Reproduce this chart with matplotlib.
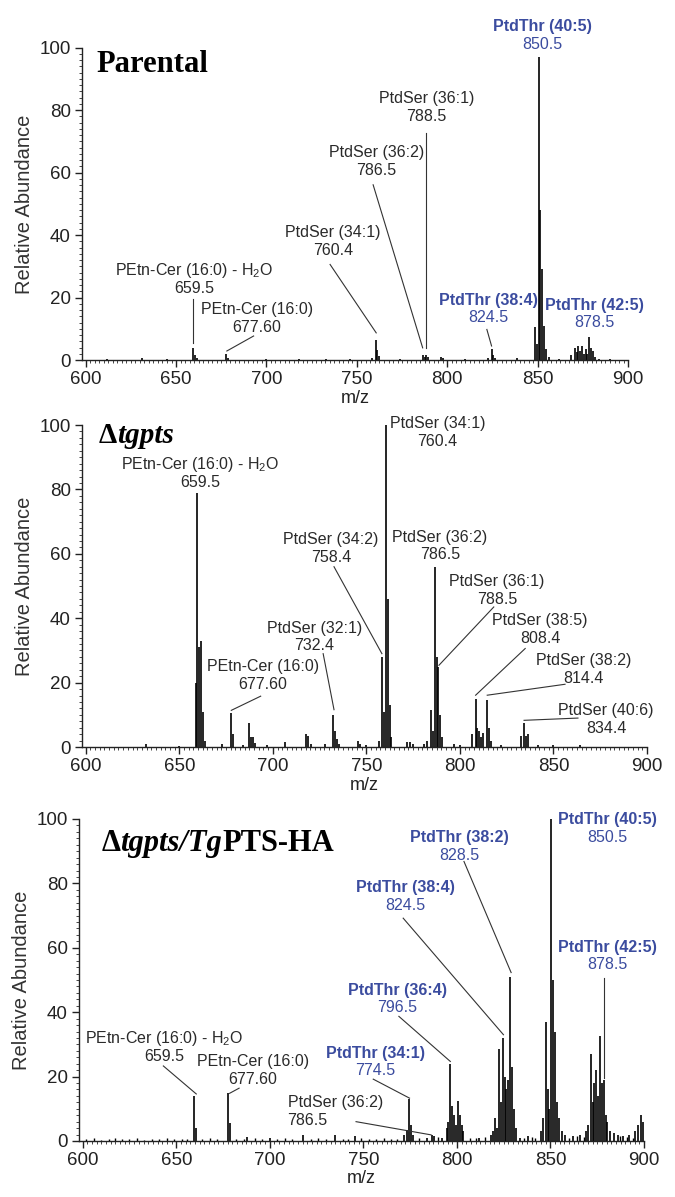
import matplotlib.pyplot as plt
from matplotlib.ticker import MultipleLocator

plt.rcParams['font.family'] = ['Liberation Sans', 'DejaVu Sans']
plt.rcParams['mathtext.fontset'] = 'custom'
plt.rcParams['mathtext.rm'] = 'Liberation Sans'
plt.rcParams['mathtext.it'] = 'Liberation Sans:italic'
plt.rcParams['mathtext.bf'] = 'Liberation Sans:bold'

BLUE = '#3b4c9f'
GREY = '#2a2a2a'

# ---- Parental spectrum ----
par_mz = [612, 631, 645, 659.5, 660.5, 661.5, 677.6, 678.6, 700, 718, 733, 746,
          758.5, 760.4, 761.4, 762.4, 774, 786.5, 787.5, 788.5, 789.5, 796.5,
          797.5, 810, 822.5, 824.5, 825.5, 826.5, 838.5, 848.5, 849.5, 850.5,
          851.5, 852.5, 853.5, 854.5, 856, 862, 868.5, 870.5, 871.5, 872.5,
          873.5, 874.5, 875.5, 876.5, 877.5, 878.5, 879.5, 880.5, 881.5, 884, 890]
par_int = [0.3, 0.6, 0.3, 4.0, 1.5, 0.6, 2.0, 0.8, 0.4, 0.4, 0.4, 0.3,
           0.5, 6.5, 3.2, 1.2, 0.4, 1.6, 1.0, 1.7, 1.0, 1.0,
           0.5, 0.4, 0.8, 3.5, 1.6, 0.6, 0.6, 10.5, 5.0, 97.0,
           48.0, 29.0, 11.0, 3.5, 1.0, 0.4, 1.5, 4.0, 2.5, 4.5,
           3.0, 4.5, 2.0, 3.5, 2.0, 7.5, 4.0, 3.0, 1.0, 0.4, 0.3]
par_names = ['PEtn-Cer (16:0) - H$_2$O', 'PEtn-Cer (16:0)', 'PtdSer (34:1)',
             'PtdSer (36:2)', 'PtdSer (36:1)', 'PtdThr (40:5)', 'PtdThr (38:4)',
             'PtdThr (42:5)']
par_values = ['659.5', '677.60', '760.4', '786.5', '788.5', '850.5', '824.5', '878.5']

# ---- knockout spectrum ----
ko_mz = [632, 650, 659.0, 659.5, 660.5, 661.5, 662.5, 663.5, 673, 677.6, 678.6,
         684, 687.5, 688.5, 689.5, 690.5, 697, 706.5, 717.5, 719.0, 720.5, 728,
         732.4, 733.4, 734.4, 735.5, 745.5, 746.5, 750, 756.5, 758.4, 759.4,
         760.4, 761.4, 762.4, 763.4, 771.5, 773.5, 775, 781, 782.5, 784.5,
         785.5, 786.5, 787.5, 788.5, 789.5, 790.5, 797, 800, 806.5, 808.4,
         809.4, 810.4, 811.4, 812.4, 814.4, 815.4, 816.4, 822, 832.4, 834.4,
         835.4, 836.4, 842, 850, 864]
ko_int = [1.0, 0.4, 20, 79, 31, 33, 11, 2, 1.0, 10.5, 4,
          0.6, 7.5, 3, 3, 1.2, 0.5, 1.5, 4, 3.5, 1, 0.8,
          10, 5, 2.5, 1, 2, 1, 0.5, 2, 28, 11,
          100, 46, 13, 3, 1.5, 1.5, 1, 1, 2, 11.5,
          5, 56, 28, 25, 10, 3, 0.8, 0.6, 4, 15,
          6, 5, 3, 4.5, 14.5, 6, 2, 0.5, 3.5, 7.5,
          3.5, 4, 0.5, 0.5, 0.7]
ko_names = ['PEtn-Cer (16:0) - H$_2$O', 'PEtn-Cer (16:0)', 'PtdSer (32:1)',
            'PtdSer (34:2)', 'PtdSer (34:1)', 'PtdSer (36:2)', 'PtdSer (36:1)',
            'PtdSer (38:5)', 'PtdSer (38:2)', 'PtdSer (40:6)']
ko_values = ['659.5', '677.60', '732.4', '758.4', '760.4', '786.5', '788.5',
             '808.4', '814.4', '834.4']

# ---- complemented spectrum ----
ha_mz = [659.5, 660.5, 677.6, 678.6, 688, 700, 718, 735, 745.5, 772, 773.5,
         774.5, 775.5, 776.5, 784, 786.5, 788, 792, 794.5, 795.5, 796.5, 797.5,
         798.5, 799.5, 800.5, 801.5, 802.5, 803.5, 812, 818, 819.5, 820.5, 821.5,
         822.5, 823.5, 824.5, 825.5, 826.5, 827.5, 828.5, 829.5, 830.5, 831.5,
         834, 838, 845, 846.2, 847.5, 848.8, 849.5, 850.5, 851.5, 852.5, 853.5,
         854.5, 856, 858, 862, 866, 869, 870, 871.5, 872.5, 873.5, 874.5, 875.5,
         876.5, 877.5, 878.5, 879.5, 880.5, 882, 884, 886, 889, 892, 895, 897,
         898.5, 899.5]
ha_int = [14, 4, 15, 5.5, 1.2, 1, 2, 2, 1.5, 2, 3.5,
          13, 5, 2, 1, 2, 1.5, 1, 4, 6, 24, 11,
          8, 5, 12.5, 8, 5, 3, 1, 2, 3, 7, 4,
          28.5, 12, 32, 20, 16, 19, 51, 23, 10, 4,
          1, 1.5, 3, 7, 37, 16, 10, 100, 50, 34, 12,
          7, 3, 2, 1.5, 2, 3, 5, 27, 12, 18, 22, 14,
          32.5, 18, 19, 8, 6, 3, 2.5, 2, 1.5, 2, 3, 5,
          8, 6]
ha_noise_mz = [602, 606, 610, 614, 617, 621, 625, 629, 633, 637, 641, 645, 649,
               653, 656, 664, 668, 672, 682, 686, 692, 696, 704, 708, 712, 722,
               726, 730, 739, 742, 749, 753, 757, 761, 765, 768, 780, 790, 807,
               810, 815, 836, 840, 842, 860, 864, 868, 887, 891, 894]
ha_noise_int = [0.5, 0.8, 0.4, 0.7, 1.0, 0.5, 0.6, 0.9, 0.4, 0.7, 0.5, 0.8, 0.6,
                0.5, 0.7, 0.6, 0.9, 0.5, 0.7, 0.6, 0.8, 0.5, 0.7, 0.9, 0.6, 0.5,
                0.8, 0.6, 0.7, 0.5, 0.9, 0.6, 0.5, 0.8, 0.6, 0.7, 1.0, 1.2, 1.0,
                0.8, 1.2, 0.9, 1.1, 0.8, 1.0, 1.4, 1.2, 1.5, 1.3, 1.0]
ha_names = ['PEtn-Cer (16:0) - H$_2$O', 'PEtn-Cer (16:0)', 'PtdSer (36:2)',
            'PtdThr (34:1)', 'PtdThr (36:4)', 'PtdThr (38:4)', 'PtdThr (38:2)',
            'PtdThr (40:5)', 'PtdThr (42:5)']
ha_values = ['659.5', '677.60', '786.5', '774.5', '796.5', '824.5', '828.5',
             '850.5', '878.5']

# label placement (data coords) and leader lines
par_text_xy = [(660, 25.8), (694.8, 13.3), (736.9, 37.9), (760.7, 63.5),
               (788.6, 80.9), (852.4, 103.9), (822.6, 16.3), (881.4, 14.8)]
par_leaders = [(659.5, 19.4, 659.5, 5.5), (692.9, 7.7, 678.1, 2.9),
               (735.2, 30.6, 760.7, 8.7), (759.0, 56.1, 786.4, 3.9),
               (788.5, 72.6, 788.5, 3.9), None, (821.9, 9.8, 824.5, 4.5), None]
ko_text_xy = [(661.2, 85.0), (694.6, 22.2), (722.3, 34.1), (731.1, 61.6),
              (788.1, 97.7), (789.3, 62.4), (819.7, 48.6), (842.8, 36.5),
              (865.9, 24.1), (878.1, 8.6)]
ko_leaders = [None, (693.5, 15.8, 677.8, 11.4), (726.9, 29.0, 732.7, 11.6),
              (732.7, 56, 758.3, 29), None, None, (818.1, 43.5, 788.8, 25.4),
              (834.9, 30.6, 808.4, 16.1), (856.2, 19.5, 814.6, 16.1),
              (863.1, 9.0, 834.3, 8.3)]
ha_text_xy = [(643.5, 29.1), (690.9, 21.9), (709.5, 9.1), (756.4, 24.6),
              (768.3, 44.1), (772.4, 75.9), (801.1, 91.4), (880.5, 97.0),
              (880.5, 57.5)]
ha_leaders = [(643.1, 23.3, 660.7, 14.6), (683.6, 16.4, 678.5, 14.8),
              (746.1, 6.0, 786.2, 1.9), (755.3, 19.2, 774.7, 13.3),
              (769.0, 38.7, 796.5, 24.7), (771.3, 69.2, 824.9, 33.0),
              (803.8, 86.8, 829.0, 52.3), None, (878.9, 50.6, 878.9, 19.5)]
ha_align = ['center', 'center', 'left', 'center', 'center', 'center', 'center',
            'center', 'center']


def setup_axis(ax):
    ax.set_xlim(598, 900)
    ax.set_ylim(0, 100)
    for s in ['top', 'right']:
        ax.spines[s].set_visible(False)
    for s in ['left', 'bottom']:
        ax.spines[s].set_linewidth(1.0)
        ax.spines[s].set_color('#222222')
    ax.xaxis.set_major_locator(MultipleLocator(50))
    ax.xaxis.set_minor_locator(MultipleLocator(2.5))
    ax.yaxis.set_major_locator(MultipleLocator(20))
    ax.yaxis.set_minor_locator(MultipleLocator(2))
    ax.tick_params(which='major', length=5, width=1.0, labelsize=13.5,
                   colors='#222222', pad=3)
    ax.tick_params(which='minor', length=2.5, width=0.7, colors='#444444')
    ax.set_xlabel('m/z', fontsize=13, color='#222222', labelpad=1)
    ax.set_ylabel('Relative Abundance', fontsize=14.5, color='#333333', labelpad=4)


def draw_labels(ax, names, values, text_xy, leaders, align=None):
    for i in range(len(names)):
        x, y = text_xy[i]
        ha = align[i] if align else 'center'
        if names[i].startswith('PtdThr'):
            col, w = BLUE, 'bold'
        else:
            col, w = GREY, 'normal'
        ax.annotate(names[i], xy=(x, y), xytext=(0, 6.3), textcoords='offset points',
                    ha=ha, va='center', fontsize=11.5, color=col, fontweight=w,
                    annotation_clip=False)
        ax.annotate(values[i], xy=(x, y), xytext=(0, -6.3), textcoords='offset points',
                    ha=ha, va='center', fontsize=11.5, color=col,
                    annotation_clip=False)
        if leaders[i] is not None:
            x0, y0, x1, y1 = leaders[i]
            ax.plot([x0, x1], [y0, y1], color='#333333', lw=0.8, clip_on=False)


def draw_title(ax, pieces, x, y, size=22):
    # pieces: list of (text, style)
    prev = None
    for txt, style in pieces:
        kw = dict(fontsize=size, fontweight='bold', fontstyle=style,
                  family='Liberation Serif', color='black', va='bottom', ha='left')
        if prev is None:
            prev = ax.text(x, y, txt, transform=ax.transAxes, **kw)
        else:
            prev = ax.annotate(txt, xy=(1, 0), xycoords=prev, **kw)


fig = plt.figure(figsize=(6.75, 11.97), dpi=100)
ax1 = fig.add_axes([0.1215, 0.6992, 0.809, 0.2610])
ax2 = fig.add_axes([0.1215, 0.3759, 0.837, 0.2690])
ax3 = fig.add_axes([0.1170, 0.0468, 0.837, 0.2690])

for ax in (ax1, ax2, ax3):
    setup_axis(ax)

ax1.vlines(par_mz, 0, par_int, color='black', lw=1.2)
ax2.vlines(ko_mz, 0, ko_int, color='black', lw=1.2)
ax3.vlines(ha_noise_mz, 0, ha_noise_int, color='black', lw=1.0)
ax3.vlines(ha_mz, 0, ha_int, color='black', lw=1.2)

draw_labels(ax1, par_names, par_values, par_text_xy, par_leaders)
draw_labels(ax2, ko_names, ko_values, ko_text_xy, ko_leaders)
draw_labels(ax3, ha_names, ha_values, ha_text_xy, ha_leaders, ha_align)

draw_title(ax1, [('Parental', 'normal')], 0.027, 0.9)
draw_title(ax2, [('Δ', 'normal'), ('tgpts', 'italic')], 0.03, 0.925, size=21)
draw_title(ax3, [('Δ', 'normal'), ('tgpts/Tg', 'italic'), ('PTS-HA', 'normal')],
           0.04, 0.88)

fig.savefig('out.png', dpi=100)
